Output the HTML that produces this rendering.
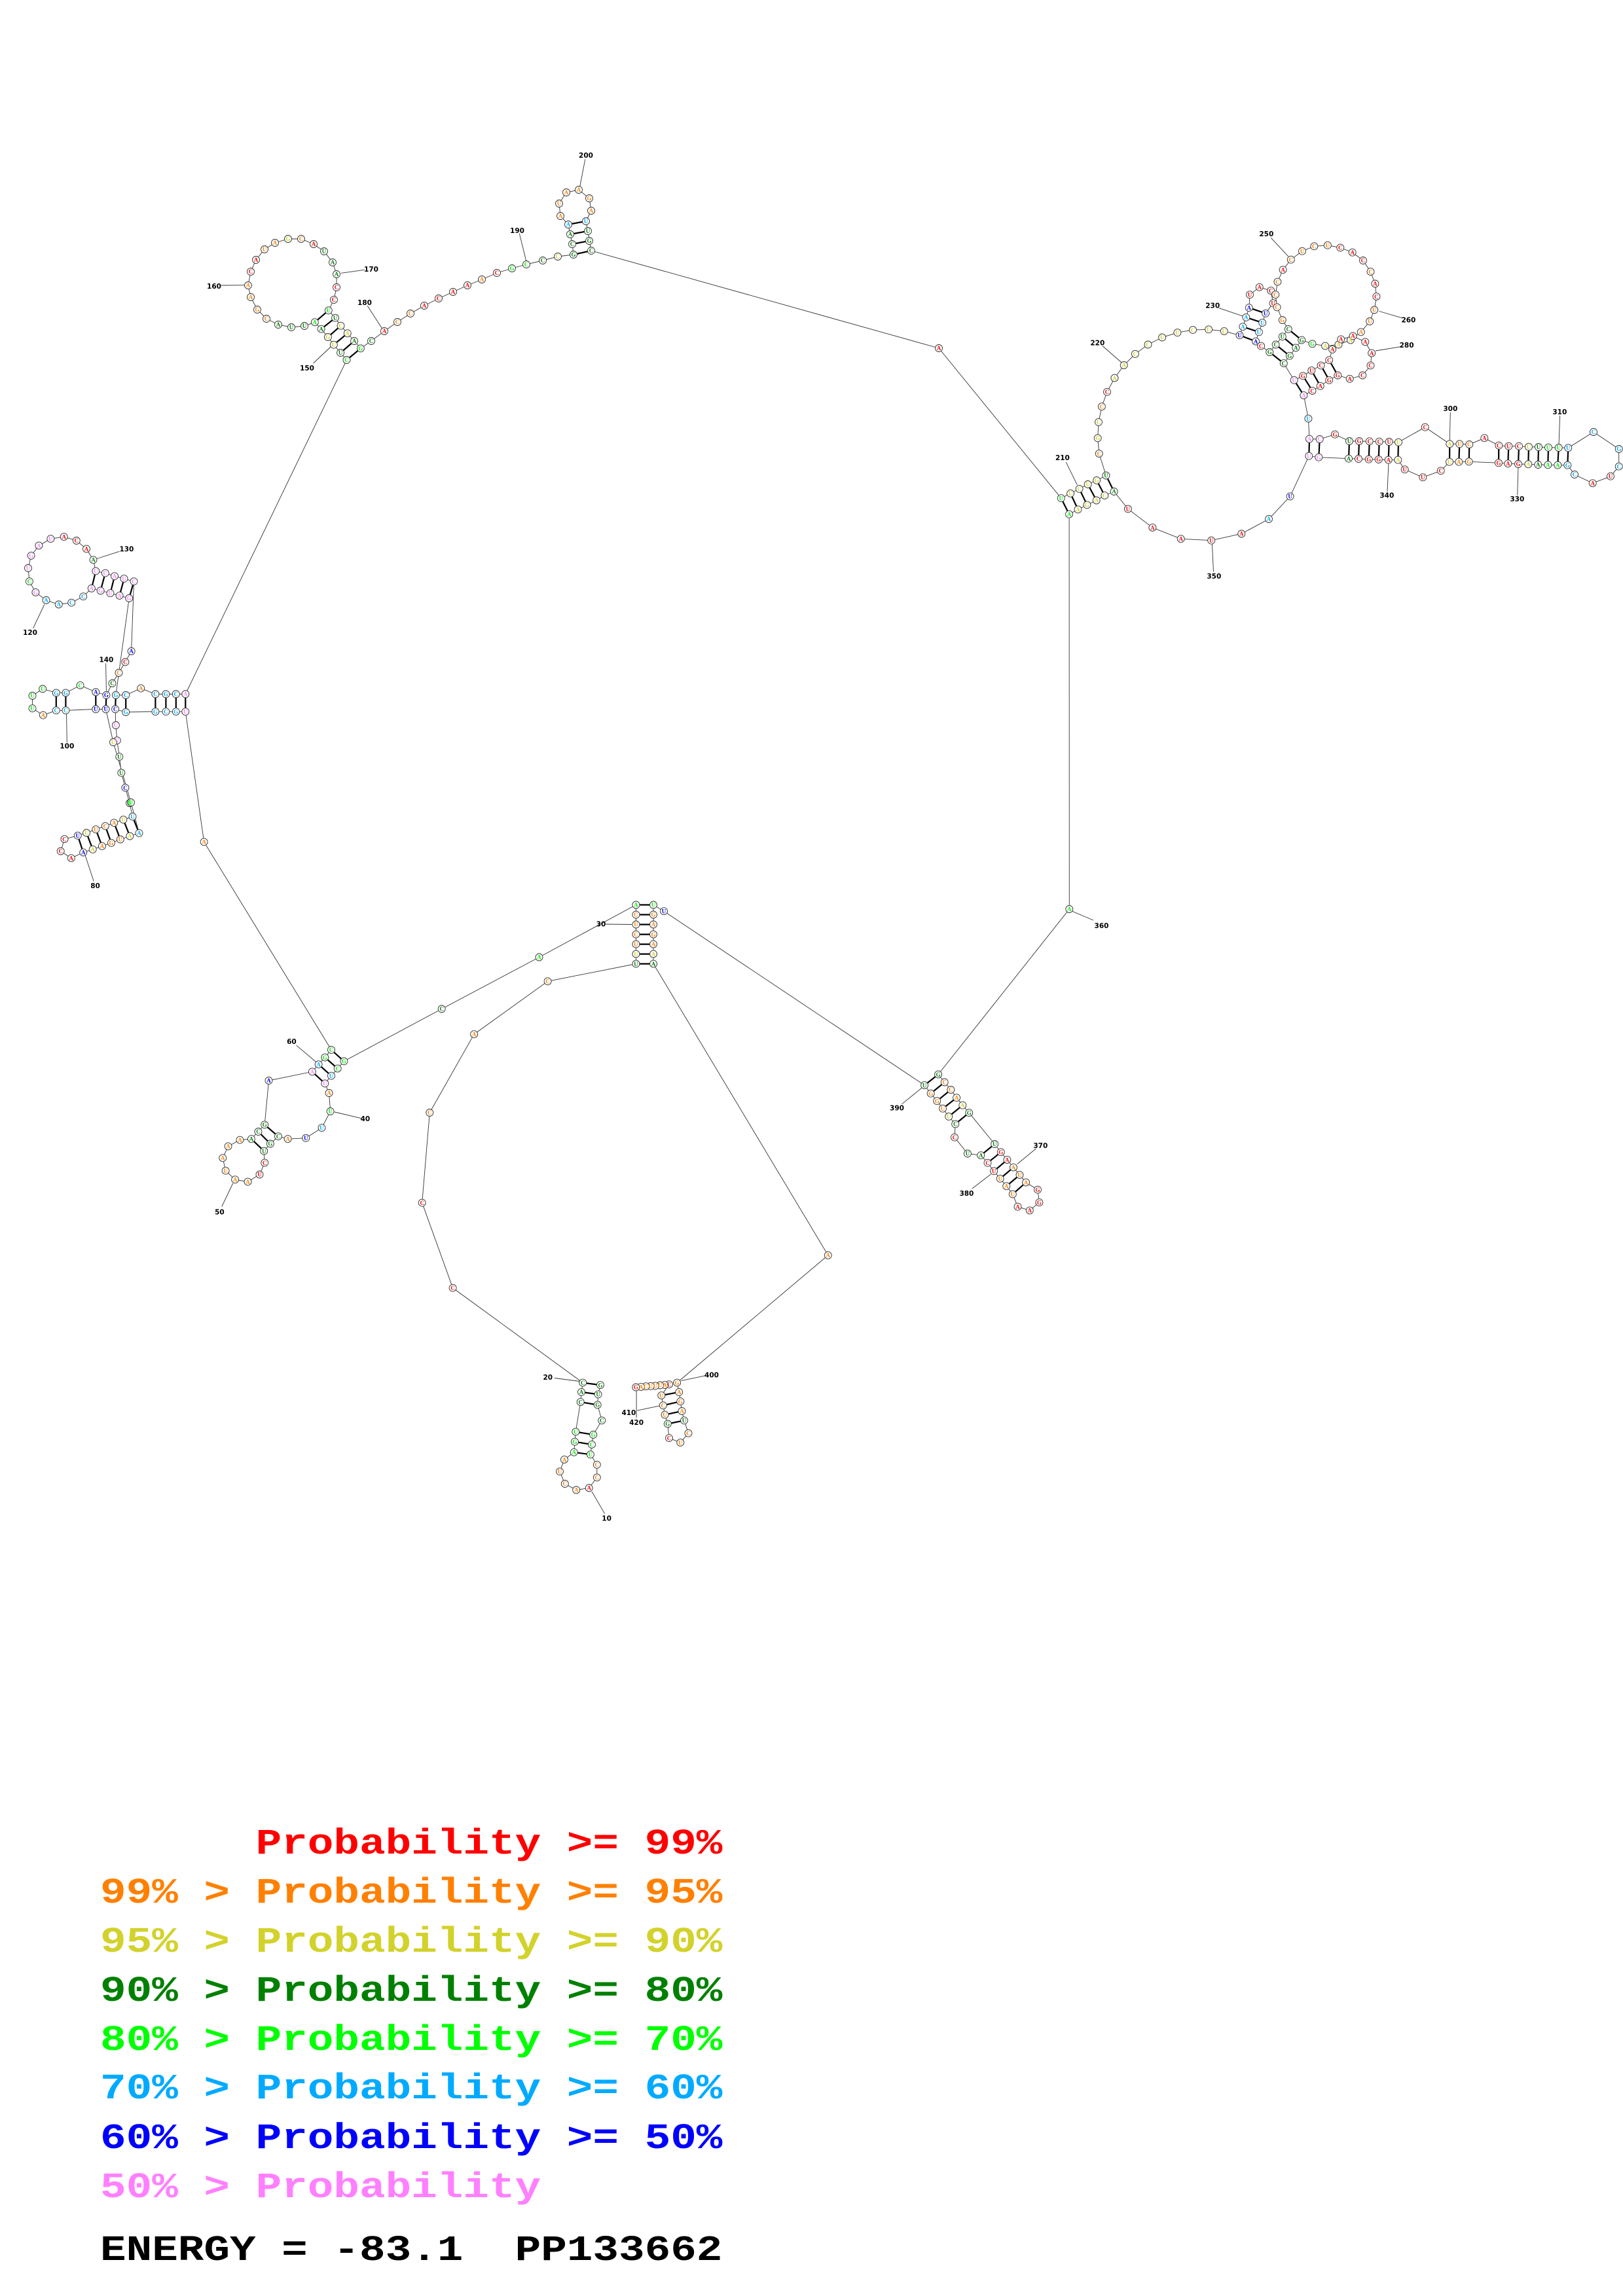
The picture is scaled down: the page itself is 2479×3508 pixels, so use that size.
<!DOCTYPE html>
<html><head><meta charset="utf-8"><style>
html,body{margin:0;padding:0;background:#fff}
svg{display:block}
.nt text{font:bold 9px "Liberation Serif",serif;text-anchor:middle}
.lb text{font:bold 10.5px "DejaVu Sans","Liberation Sans",sans-serif;text-anchor:middle;fill:#000}
.r{fill:#f00}.o{fill:#ff8000}.y{fill:#d2d22c}.d{fill:#008000}.g{fill:#00ee00}.b{fill:#00aaff}.u{fill:#0000ff}.p{fill:#ff80ff}
.lg text{font:bold 66px "Liberation Mono",monospace}
</style></head><body>
<svg width="2479" height="3508" viewBox="0 0 2479 3508" xmlns="http://www.w3.org/2000/svg">
<defs><marker id="m" markerWidth="14" markerHeight="14" refX="7" refY="7" markerUnits="userSpaceOnUse" overflow="visible"><circle cx="7" cy="7" r="5.5" fill="#fff" stroke="#333" stroke-width="0.9"/></marker></defs>
<rect width="2479" height="3508" fill="#fff"/>
<!-- label ticks -->
<path fill="none" stroke="#333" stroke-width="0.9" d="M904,2279L923.6,2312.7M847,2105.5L889,2111M925,1412L965,1412.5M510.9,1699L552,1708.7M338.8,1843.5L355.7,1808M452.7,1597.2L484.2,1623.9M129,1303.5L143.2,1346.5M101.5,1090L102.3,1134M50.6,959.9L67.8,923.5M148.2,853.5L182.6,842.4M161.6,1013.5L162.4,1055.5M478.6,555L505,530M338,436L373.7,435.7M521,417.3L556.7,412.3M561.2,467.3L583.5,501.7M793.3,356.7L803.6,398.3M893.8,243.3L885.7,285M1628.2,706.1L1645.3,740.8M1684.1,528.6L1716.7,557M1861.6,470.6L1900.4,483.7M1941.2,363.3L1967.8,391.8M2106.5,475.5L2141.2,485.7M2101,536L2139.2,529.8M2215.3,630L2214.3,673.3M2382.7,635L2381,679.3M2319,713.3L2317.7,756.7M2121,706.7L2119,751M1851.4,830.6L1853.5,873.5M1637,1392L1670,1406M1553.7,1778.6L1582.4,1754.9M1484.8,1816.1L1513.5,1794M1377.6,1686.8L1408.3,1661.9M1040.6,2109.6L1077.5,2101.8M973.4,2155.1L1010.3,2147.3M972.1,2166L972.1,2120.4"/>
<!-- pair bonds -->
<path fill="none" stroke="#000" stroke-width="2.2" d="M890.2,2112.6L917,2116.1M888,2126.9L913.6,2130.4M886.7,2142.1L912.7,2146.4M879.3,2187.6L906.2,2192M878,2202.8L904,2207.1M876.7,2218.9L901.9,2222.3
M971.4,1382.5L998,1382.5M971.4,1397.5L998,1397.5M971.4,1412.5L998,1412.5M971.4,1427.6L998,1427.6M971.4,1442.6L998,1442.6M971.4,1457.6L998,1457.6M971.4,1472.6L998,1472.6
M506,1604L525.4,1621.4M496.3,1615.6L515.7,1632.6M486.6,1626.3L506,1643.7M476.9,1637.4L496.3,1655.4M404.2,1718.4L425,1736.3M394.5,1729L412.9,1747.5M383.9,1740.2L403.2,1758.6
M118.7,1276.7L127.2,1302.4M132.1,1272.5L141.7,1297.8M146.3,1267.2L155.9,1292.8M160.8,1262.2L170,1287.8M174.2,1257.2L183.8,1282.5M188.4,1252.3L198.3,1277.5M202.5,1247.7L212.5,1272.9
M85.8,1058.6L85.8,1085.4M100.4,1058.6L100.4,1085.4M146.3,1057.5L146.3,1083.5M162.4,1062L161.6,1083.5M176.9,1062L176.1,1083.5M192.2,1062L192.2,1088M237.4,1060.5L237.4,1087.3M253.4,1060.5L253.4,1087.3M268.8,1060.5L268.8,1087.3M283.3,1060.5L283.3,1087.3
M146.3,872.6L139.8,899M160.8,875.7L153.6,902.5M175,880.3L168.5,906.3M189.5,884.1L182.6,910.1M204.5,888.3L197.2,914
M480.8,492.3L501.8,474.3M490.6,502.7L512.1,485.7M500.9,515L520.5,497.7M509.8,526.7L530.8,509.3M520.1,539L541.1,521M529.5,550L550.9,532.3
M868,343L895,338M871,358L898,353M874,373L900,368M876,389L903,383
M1620.8,761.2L1633.1,785.7M1635.1,753.9L1646.5,778.4M1648.6,746.9L1660.4,771.4M1661.6,740L1674.7,764.5M1675.1,733.9L1687.3,757.1M1689.4,726.5L1701.6,751
M1893.5,512.2L1918,521.6M1898.4,499.2L1922.9,507.3M1903.3,484.9L1928.2,493.1M1907.8,470.2L1933.1,478.8
M1939.2,538L1960.8,555.1M1948.6,526.5L1969.8,543.7M1958.8,514.3L1979.2,531.4M1967.8,502.9L1988.2,519.6
M1976.7,580.8L1991.4,604.1M1990.2,574.3L2004.5,597.1M2003.3,566.1L2016.7,589.8M2017.6,558.4L2030.2,580.8M2030.2,550.2L2043.3,573.5
M2000,670.7L1999.3,696.7M2015.7,671L2014.3,698.7M2061,674L2060,700.7M2076,674L2075,701M2091.7,674.3L2090.7,701.7M2106.7,674.7L2105.7,702M2121.7,675L2120.7,702.7M2136,675.7L2135.3,702.7M2214.3,678.3L2214,705.7M2229.3,678.3L2228.3,705.7M2244.3,679L2243.7,705.3M2289.3,680.7L2289,707.3M2304.3,681.7L2303.3,708.3M2320,681.7L2319,709M2335,682.7L2334.3,709.3M2350,683L2349.3,710M2365,683.7L2364.3,710.3M2380.7,684L2379.3,710.7M2395.3,684.3L2394.3,710.7
M1412.1,1658.1L1433.1,1641.6M1421.7,1670.7L1442.7,1653.5M1431.2,1682.2L1452.3,1665M1440,1693.7L1461.1,1677.2M1449.2,1705.9L1470.3,1688.7M1459.2,1717.4L1480.2,1700.2
M1498.2,1765.2L1519.2,1748M1508.5,1776.7L1528.8,1760.3M1518.1,1789.3L1538.4,1772.1M1527.7,1800.8L1547.9,1783.6M1537.2,1812.3L1557.5,1795.1M1546.8,1824.6L1567.1,1806.6
M1010.3,2132.1L1037.2,2126.9M1012.9,2147.3L1039.3,2141.2M1015.5,2161.6L1041.5,2156M1019.8,2175.5L1045,2170.3"/>
<!-- backbone with node circles -->
<polyline fill="none" stroke="#333" stroke-width="0.9" marker-start="url(#m)" marker-mid="url(#m)" marker-end="url(#m)" points="917,2116.1 913.6,2130.4 912.7,2146.4 919.2,2170.3 906.2,2192 904,2207.1 901.9,2222.3 911.8,2237.9 911.8,2257.4 899.7,2273.5 880.2,2276.5 862.8,2267 855,2248.3 862,2230.1 876.7,2218.9 878,2202.8 879.3,2187.6 886.7,2142.1 888,2126.9 890.2,2112.6 691.6,1967.8 644.7,1837.7 656.3,1700 724.1,1580.2 836.6,1499.3 971.4,1472.6 971.4,1457.6 971.4,1442.6 971.4,1427.6 971.4,1412.5 971.4,1397.5 971.4,1382.5 823.5,1462.5 674.7,1541.5 525.4,1621.4 515.7,1632.6 506,1643.7 496.3,1655.4 502.6,1670 504.6,1698 491.5,1723.2 467.2,1738.8 439.6,1740.2 425,1736.3 412.9,1747.5 403.2,1758.6 404.2,1776.6 396.5,1794.5 378.5,1805.6 359.1,1802.3 344.6,1788.7 340.2,1769.3 348.5,1751.4 366.4,1741.7 383.9,1740.2 394.5,1729 404.2,1718.4 410.5,1651 476.9,1637.4 486.6,1626.3 496.3,1615.6 506,1604 311.6,1286.3 283.3,1087.3 268.8,1087.3 253.4,1087.3 237.4,1087.3 192.2,1088 176.1,1083.5 176.9,1108 178.8,1131.3 182.3,1156.2 185.3,1180.7 191.4,1203.6 198,1227 202.5,1247.7 188.4,1252.3 174.2,1257.2 160.8,1262.2 146.3,1267.2 132.1,1272.5 118.7,1276.7 98.5,1282.1 92.7,1300.5 108.8,1311.2 127.2,1302.4 141.7,1297.8 155.9,1292.8 170,1287.8 183.8,1282.5 198.3,1277.5 212.5,1272.9 200,1226 173,1134 161.6,1083.5 146.3,1083.5 100.4,1085.4 85.8,1085.4 65.9,1092.7 49.5,1082.3 49.5,1063 65.2,1052.5 85.8,1058.6 100.4,1058.6 122.6,1047.1 146.3,1057.5 162.4,1062 171.5,1044 181.5,1028 191.4,1011.5 200.6,995 204.5,888.3 189.5,884.1 175,880.3 160.8,875.7 146.3,872.6 142.5,855.4 132,838.6 116.8,826 97.7,820.2 77.4,823.2 59.4,833.6 47.6,848.9 43,868 44.9,888.3 54.4,905.1 70.5,917 89.7,923.5 109.2,920.8 127.2,911.3 139.8,899 153.6,902.5 168.5,906.3 182.6,910.1 197.2,914 176.9,1062 192.2,1062 215.2,1051.7 237.4,1060.5 253.4,1060.5 268.8,1060.5 283.3,1060.5 529.5,550 520.1,539 509.8,526.7 500.9,515 490.6,502.7 480.8,492.3 465,498 445,500 425,496 407,487 393,473 383,454 379,436 383,415 391,397 404,381 420,371 440,365 460,365 479,373 495,384 508,401 514,419 514,439 510,458 501.8,474.3 512.1,485.7 520.5,497.7 530.8,509.3 541.1,521 550.9,532.3 567,521 587,506 607,492 627,479 648,467 670,456 692,446 714,436 736,427 759,417 782,410 804,404 829,398 852,392 876,389 874,373 871,358 868,343 856,330 854,311 865,294 884,290 900,303 903,322 895,338 898,353 900,368 903,383 1434,532 1620.8,761.2 1635.1,753.9 1648.6,746.9 1661.6,740 1675.1,733.9 1689.4,726.5 1678.8,693.1 1676.7,669.4 1678,644.9 1682.9,621.2 1691,598.8 1702.4,577.6 1716.7,558 1733.9,540.8 1753.5,526.5 1775.1,515.5 1798.4,508.2 1822,504.1 1846.1,503.3 1869.8,506.1 1893.5,512.2 1898.4,499.2 1903.3,484.9 1907.8,470.2 1909,450.2 1923.7,438.8 1941.2,444.1 1944.5,463.3 1933.1,478.8 1928.2,493.1 1922.9,507.3 1918,521.6 1926.1,528.6 1939.2,538 1948.6,526.5 1958.8,514.3 1967.8,502.9 1958.8,489 1950.6,469.4 1948.2,450.2 1951.4,430.6 1959.6,412.2 1971.8,396.7 1989,383.7 2007.3,376.3 2027.8,374.7 2047.3,378.4 2065.7,385.7 2082,398 2093.5,415.1 2100.4,433.5 2102.4,453.1 2099.2,473.5 2092.2,491 2078.8,507.3 2062.9,519.6 2044.5,526.5 2024.1,528.6 2004.5,525.3 1988.2,519.6 1979.2,531.4 1969.8,543.7 1960.8,555.1 1976.7,580.8 1990.2,574.3 2003.3,566.1 2017.6,558.4 2030.2,550.2 2035.1,533.9 2048.2,518.4 2066.5,513.5 2085.3,522.4 2095.1,539.6 2093.5,558.4 2081.2,573.5 2061.6,578.8 2043.3,573.5 2030.2,580.8 2016.7,589.8 2004.5,597.1 1991.4,604.1 1998.4,639.6 2000,670.7 2015.7,671 2039,663.7 2061,674 2076,674 2091.7,674.3 2106.7,674.7 2121.7,675 2136,675.7 2176.7,652.7 2214.3,678.3 2229.3,678.3 2244.3,679 2267.3,669.3 2289.3,680.7 2304.3,681.7 2320,681.7 2335,682.7 2350,683 2365,683.7 2380.7,684 2395.3,684.3 2434,660 2472.7,686 2472.7,712.7 2460,727.7 2432.7,738.3 2405,725 2394.3,710.7 2379.3,710.7 2364.3,710.3 2349.3,710 2334.3,709.3 2319,709 2303.3,708.3 2289,707.3 2243.7,705.3 2228.3,705.7 2214,705.7 2200.7,719.3 2173.3,729.3 2145.7,717.3 2135.3,702.7 2120.7,702.7 2105.7,702 2090.7,701.7 2075,701 2060,700.7 2014.3,698.7 1999.3,696.7 1970.6,758.4 1938,793 1896.3,815.5 1850.2,825.7 1803.7,823.3 1760.4,806.1 1722.9,777.6 1701.6,751 1687.3,757.1 1674.7,764.5 1660.4,771.4 1646.5,778.4 1633.1,785.7 1633.3,1389 1433.1,1641.6 1442.7,1653.5 1452.3,1665 1461.1,1677.2 1470.3,1688.7 1480.2,1700.2 1519.2,1748 1528.8,1760.3 1538.4,1772.1 1547.9,1783.6 1557.5,1795.1 1567.1,1806.6 1585,1817.7 1587.4,1837.2 1572.8,1849.4 1554.5,1843.7 1546.8,1824.6 1537.2,1812.3 1527.7,1800.8 1518.1,1789.3 1508.5,1776.7 1498.2,1765.2 1477.9,1762.5 1458,1737.7 1459.2,1717.4 1449.2,1705.9 1440,1693.7 1431.2,1682.2 1421.7,1670.7 1412.1,1658.1 1014,1392.2 998,1382.5 998,1397.5 998,1412.5 998,1427.6 998,1442.6 998,1457.6 998,1472.6 1264.8,1917.9 1034.1,2112.6 1037.2,2126.9 1039.3,2141.2 1041.5,2156 1045,2170.3 1051.5,2189.8 1039.3,2204.1 1022,2197.2 1019.8,2175.5 1015.5,2161.6 1012.9,2147.3 1010.3,2132.1 1022,2115.2 1015.5,2116.1 1008.1,2116.5 1000.7,2117.4 993.8,2117.8 986.4,2118.2 979.1,2119.1 971.3,2119.5"/>
<!-- nucleotide letters -->
<g class="nt" transform="translate(0,3.2)">
<text x="917" y="2116.1" class="d">G</text><text x="913.6" y="2130.4" class="d">U</text><text x="912.7" y="2146.4" class="d">G</text><text x="919.2" y="2170.3" class="d">C</text><text x="906.2" y="2192" class="g">G</text><text x="904" y="2207.1" class="g">C</text><text x="901.9" y="2222.3" class="g">U</text><text x="911.8" y="2237.9" class="o">C</text><text x="911.8" y="2257.4" class="o">C</text><text x="899.7" y="2273.5" class="r">A</text><text x="880.2" y="2276.5" class="o">A</text><text x="862.8" y="2267" class="o">C</text><text x="855" y="2248.3" class="o">U</text><text x="862" y="2230.1" class="o">A</text><text x="876.7" y="2218.9" class="g">A</text><text x="878" y="2202.8" class="g">G</text><text x="879.3" y="2187.6" class="g">U</text><text x="886.7" y="2142.1" class="d">C</text><text x="888" y="2126.9" class="d">A</text><text x="890.2" y="2112.6" class="d">C</text>
<text x="691.6" y="1967.8" class="r">C</text><text x="644.7" y="1837.7" class="r">C</text><text x="656.3" y="1700" class="o">C</text><text x="724.1" y="1580.2" class="o">A</text><text x="836.6" y="1499.3" class="o">C</text>
<text x="971.4" y="1472.6" class="d">U</text><text x="971.4" y="1457.6" class="y">U</text><text x="971.4" y="1442.6" class="o">U</text><text x="971.4" y="1427.6" class="o">C</text><text x="971.4" y="1412.5" class="o">U</text><text x="971.4" y="1397.5" class="o">C</text><text x="971.4" y="1382.5" class="g">A</text>
<text x="823.5" y="1462.5" class="g">A</text><text x="674.7" y="1541.5" class="d">C</text><text x="525.4" y="1621.4" class="g">G</text><text x="515.7" y="1632.6" class="g">C</text><text x="506" y="1643.7" class="b">U</text><text x="496.3" y="1655.4" class="p">U</text><text x="502.6" y="1670" class="o">A</text><text x="504.6" y="1698" class="g">U</text><text x="491.5" y="1723.2" class="b">U</text><text x="467.2" y="1738.8" class="u">U</text><text x="439.6" y="1740.2" class="o">A</text><text x="425" y="1736.3" class="d">C</text><text x="412.9" y="1747.5" class="d">G</text><text x="403.2" y="1758.6" class="d">U</text><text x="404.2" y="1776.6" class="r">C</text><text x="396.5" y="1794.5" class="r">U</text><text x="378.5" y="1805.6" class="o">A</text><text x="359.1" y="1802.3" class="o">A</text><text x="344.6" y="1788.7" class="o">U</text><text x="340.2" y="1769.3" class="o">A</text><text x="348.5" y="1751.4" class="o">A</text><text x="366.4" y="1741.7" class="o">A</text><text x="383.9" y="1740.2" class="d">A</text><text x="394.5" y="1729" class="d">C</text><text x="404.2" y="1718.4" class="d">G</text><text x="410.5" y="1651" class="u">A</text><text x="476.9" y="1637.4" class="p">A</text><text x="486.6" y="1626.3" class="b">A</text><text x="496.3" y="1615.6" class="g">G</text><text x="506" y="1604" class="g">C</text><text x="311.6" y="1286.3" class="o">A</text>
<text x="283.3" y="1087.3" class="p">U</text><text x="268.8" y="1087.3" class="b">G</text><text x="253.4" y="1087.3" class="b">C</text><text x="237.4" y="1087.3" class="b">G</text><text x="192.2" y="1088" class="b">G</text><text x="176.1" y="1083.5" class="u">C</text><text x="176.9" y="1108" class="p">U</text><text x="173" y="1134" class="y">U</text><text x="178.8" y="1131.3" class="p">U</text><text x="182.3" y="1156.2" class="d">U</text><text x="185.3" y="1180.7" class="d">U</text><text x="191.4" y="1203.6" class="u">C</text><text x="200" y="1226" class="g">U</text><text x="198" y="1227" class="g">U</text><text x="202.5" y="1247.7" class="b">U</text><text x="188.4" y="1252.3" class="y">U</text><text x="174.2" y="1257.2" class="o">A</text><text x="160.8" y="1262.2" class="o">C</text><text x="146.3" y="1267.2" class="o">U</text><text x="132.1" y="1272.5" class="y">U</text><text x="118.7" y="1276.7" class="u">U</text><text x="98.5" y="1282.1" class="r">C</text><text x="92.7" y="1300.5" class="r">C</text><text x="108.8" y="1311.2" class="r">A</text><text x="127.2" y="1302.4" class="u">A</text><text x="141.7" y="1297.8" class="y">A</text><text x="155.9" y="1292.8" class="o">A</text><text x="170" y="1287.8" class="o">G</text><text x="183.8" y="1282.5" class="o">U</text><text x="198.3" y="1277.5" class="y">A</text><text x="212.5" y="1272.9" class="b">A</text>
<text x="161.6" y="1083.5" class="u">U</text><text x="146.3" y="1083.5" class="u">U</text><text x="100.4" y="1085.4" class="b">C</text><text x="85.8" y="1085.4" class="b">C</text><text x="65.9" y="1092.7" class="o">A</text><text x="49.5" y="1082.3" class="g">U</text><text x="49.5" y="1063" class="g">U</text><text x="65.2" y="1052.5" class="g">U</text><text x="85.8" y="1058.6" class="b">G</text><text x="100.4" y="1058.6" class="b">G</text><text x="122.6" y="1047.1" class="g">C</text><text x="146.3" y="1057.5" class="u">A</text><text x="162.4" y="1062" class="u">G</text><text x="171.5" y="1044" class="d">C</text><text x="181.5" y="1028" class="o">C</text><text x="191.4" y="1011.5" class="r">C</text><text x="200.6" y="995" class="u">A</text>
<text x="204.5" y="888.3" class="p">C</text><text x="189.5" y="884.1" class="p">U</text><text x="175" y="880.3" class="p">A</text><text x="160.8" y="875.7" class="p">C</text><text x="146.3" y="872.6" class="p">U</text><text x="142.5" y="855.4" class="d">A</text><text x="132" y="838.6" class="r">A</text><text x="116.8" y="826" class="r">C</text><text x="97.7" y="820.2" class="r">A</text><text x="77.4" y="823.2" class="p">U</text><text x="59.4" y="833.6" class="p">A</text><text x="47.6" y="848.9" class="p">G</text><text x="43" y="868" class="p">U</text><text x="44.9" y="888.3" class="g">C</text><text x="54.4" y="905.1" class="p">G</text><text x="70.5" y="917" class="b">A</text><text x="89.7" y="923.5" class="b">A</text><text x="109.2" y="920.8" class="b">C</text><text x="127.2" y="911.3" class="b">C</text><text x="139.8" y="899" class="p">A</text><text x="153.6" y="902.5" class="p">G</text><text x="168.5" y="906.3" class="p">U</text><text x="182.6" y="910.1" class="p">A</text><text x="197.2" y="914" class="p">G</text>
<text x="176.9" y="1062" class="b">G</text><text x="192.2" y="1062" class="b">C</text><text x="215.2" y="1051.7" class="o">A</text><text x="237.4" y="1060.5" class="b">C</text><text x="253.4" y="1060.5" class="b">G</text><text x="268.8" y="1060.5" class="b">C</text><text x="283.3" y="1060.5" class="p">A</text>
<text x="529.5" y="550" class="g">C</text><text x="520.1" y="539" class="d">U</text><text x="509.8" y="526.7" class="y">U</text><text x="500.9" y="515" class="y">G</text><text x="490.6" y="502.7" class="d">A</text><text x="480.8" y="492.3" class="g">A</text><text x="465" y="498" class="d">U</text><text x="445" y="500" class="d">U</text><text x="425" y="496" class="d">A</text><text x="407" y="487" class="o">C</text><text x="393" y="473" class="o">G</text><text x="383" y="454" class="o">A</text><text x="379" y="436" class="o">A</text><text x="383" y="415" class="r">C</text><text x="391" y="397" class="r">A</text><text x="404" y="381" class="o">U</text><text x="420" y="371" class="o">A</text><text x="440" y="365" class="y">G</text><text x="460" y="365" class="o">C</text><text x="479" y="373" class="r">A</text><text x="495" y="384" class="d">U</text><text x="508" y="401" class="d">A</text><text x="514" y="419" class="d">A</text><text x="514" y="439" class="r">C</text><text x="510" y="458" class="r">C</text><text x="501.8" y="474.3" class="g">U</text><text x="512.1" y="485.7" class="d">U</text><text x="520.5" y="497.7" class="y">C</text><text x="530.8" y="509.3" class="y">A</text><text x="541.1" y="521" class="d">A</text><text x="550.9" y="532.3" class="g">G</text>
<text x="567" y="521" class="d">C</text><text x="587" y="506" class="r">A</text><text x="607" y="492" class="o">C</text><text x="627" y="479" class="o">C</text><text x="648" y="467" class="r">A</text><text x="670" y="456" class="r">C</text><text x="692" y="446" class="r">A</text><text x="714" y="436" class="r">A</text><text x="736" y="427" class="o">A</text><text x="759" y="417" class="r">C</text><text x="782" y="410" class="g">G</text><text x="804" y="404" class="g">C</text><text x="829" y="398" class="d">C</text><text x="852" y="392" class="y">C</text><text x="876" y="389" class="d">G</text><text x="874" y="373" class="d">C</text><text x="871" y="358" class="d">A</text><text x="868" y="343" class="b">A</text><text x="856" y="330" class="o">A</text><text x="854" y="311" class="o">U</text><text x="865" y="294" class="o">A</text><text x="884" y="290" class="o">A</text><text x="900" y="303" class="o">G</text><text x="903" y="322" class="o">A</text><text x="895" y="338" class="b">U</text><text x="898" y="353" class="d">U</text><text x="900" y="368" class="d">G</text><text x="903" y="383" class="d">C</text><text x="1434" y="532" class="r">A</text>
<text x="1620.8" y="761.2" class="g">U</text><text x="1635.1" y="753.9" class="y">U</text><text x="1648.6" y="746.9" class="y">C</text><text x="1661.6" y="740" class="y">U</text><text x="1675.1" y="733.9" class="y">G</text><text x="1689.4" y="726.5" class="d">U</text><text x="1678.8" y="693.1" class="o">C</text><text x="1676.7" y="669.4" class="y">G</text><text x="1678" y="644.9" class="y">C</text><text x="1682.9" y="621.2" class="o">C</text><text x="1691" y="598.8" class="r">C</text><text x="1702.4" y="577.6" class="y">A</text><text x="1716.7" y="558" class="y">A</text><text x="1733.9" y="540.8" class="y">C</text><text x="1753.5" y="526.5" class="y">C</text><text x="1775.1" y="515.5" class="y">U</text><text x="1798.4" y="508.2" class="y">U</text><text x="1822" y="504.1" class="y">C</text><text x="1846.1" y="503.3" class="y">U</text><text x="1869.8" y="506.1" class="y">U</text>
<text x="1893.5" y="512.2" class="u">U</text><text x="1898.4" y="499.2" class="b">A</text><text x="1903.3" y="484.9" class="b">A</text><text x="1907.8" y="470.2" class="u">A</text><text x="1909" y="450.2" class="r">U</text><text x="1923.7" y="438.8" class="r">A</text><text x="1941.2" y="444.1" class="r">C</text><text x="1944.5" y="463.3" class="r">U</text><text x="1933.1" y="478.8" class="u">U</text><text x="1928.2" y="493.1" class="b">U</text><text x="1922.9" y="507.3" class="b">U</text><text x="1918" y="521.6" class="u">A</text><text x="1926.1" y="528.6" class="r">C</text>
<text x="1939.2" y="538" class="d">G</text><text x="1948.6" y="526.5" class="d">C</text><text x="1958.8" y="514.3" class="d">U</text><text x="1967.8" y="502.9" class="d">C</text><text x="1958.8" y="489" class="o">G</text><text x="1950.6" y="469.4" class="o">C</text><text x="1948.2" y="450.2" class="o">C</text><text x="1951.4" y="430.6" class="o">C</text><text x="1959.6" y="412.2" class="r">A</text><text x="1971.8" y="396.7" class="o">C</text><text x="1989" y="383.7" class="o">U</text><text x="2007.3" y="376.3" class="o">C</text><text x="2027.8" y="374.7" class="o">U</text><text x="2047.3" y="378.4" class="r">C</text><text x="2065.7" y="385.7" class="r">A</text><text x="2082" y="398" class="r">C</text><text x="2093.5" y="415.1" class="o">C</text><text x="2100.4" y="433.5" class="r">A</text><text x="2102.4" y="453.1" class="r">C</text><text x="2099.2" y="473.5" class="o">U</text><text x="2092.2" y="491" class="o">U</text><text x="2078.8" y="507.3" class="o">A</text><text x="2062.9" y="519.6" class="y">A</text><text x="2044.5" y="526.5" class="y">A</text><text x="2024.1" y="528.6" class="y">A</text><text x="2004.5" y="525.3" class="g">G</text><text x="1988.2" y="519.6" class="d">G</text><text x="1979.2" y="531.4" class="d">A</text><text x="1969.8" y="543.7" class="d">G</text><text x="1960.8" y="555.1" class="d">C</text>
<text x="1976.7" y="580.8" class="p">U</text><text x="1990.2" y="574.3" class="r">G</text><text x="2003.3" y="566.1" class="r">U</text><text x="2017.6" y="558.4" class="r">C</text><text x="2030.2" y="550.2" class="r">C</text><text x="2035.1" y="533.9" class="r">A</text><text x="2048.2" y="518.4" class="r">A</text><text x="2066.5" y="513.5" class="r">A</text><text x="2085.3" y="522.4" class="r">A</text><text x="2095.1" y="539.6" class="r">A</text><text x="2093.5" y="558.4" class="r">C</text><text x="2081.2" y="573.5" class="r">C</text><text x="2061.6" y="578.8" class="r">A</text><text x="2043.3" y="573.5" class="r">G</text><text x="2030.2" y="580.8" class="r">G</text><text x="2016.7" y="589.8" class="r">A</text><text x="2004.5" y="597.1" class="r">C</text><text x="1991.4" y="604.1" class="p">A</text><text x="1998.4" y="639.6" class="b">U</text>
<text x="2000" y="670.7" class="p">A</text><text x="2015.7" y="671" class="p">C</text><text x="2039" y="663.7" class="r">G</text><text x="2061" y="674" class="d">U</text><text x="2076" y="674" class="r">G</text><text x="2091.7" y="674.3" class="r">C</text><text x="2106.7" y="674.7" class="r">C</text><text x="2121.7" y="675" class="r">U</text><text x="2136" y="675.7" class="y">U</text><text x="2176.7" y="652.7" class="r">C</text><text x="2214.3" y="678.3" class="y">A</text><text x="2229.3" y="678.3" class="o">U</text><text x="2244.3" y="679" class="o">C</text><text x="2267.3" y="669.3" class="r">A</text><text x="2289.3" y="680.7" class="r">C</text><text x="2304.3" y="681.7" class="r">U</text><text x="2320" y="681.7" class="r">C</text><text x="2335" y="682.7" class="y">U</text><text x="2350" y="683" class="d">U</text><text x="2365" y="683.7" class="g">U</text><text x="2380.7" y="684" class="g">U</text><text x="2395.3" y="684.3" class="b">U</text><text x="2434" y="660" class="b">C</text><text x="2472.7" y="686" class="b">G</text><text x="2472.7" y="712.7" class="b">C</text><text x="2460" y="727.7" class="r">U</text><text x="2432.7" y="738.3" class="r">A</text><text x="2405" y="725" class="b">C</text><text x="2394.3" y="710.7" class="b">G</text><text x="2379.3" y="710.7" class="g">A</text><text x="2364.3" y="710.3" class="g">A</text><text x="2349.3" y="710" class="d">A</text><text x="2334.3" y="709.3" class="y">A</text><text x="2319" y="709" class="r">G</text><text x="2303.3" y="708.3" class="r">A</text><text x="2289" y="707.3" class="r">G</text><text x="2243.7" y="705.3" class="o">G</text><text x="2228.3" y="705.7" class="o">A</text><text x="2214" y="705.7" class="y">U</text><text x="2200.7" y="719.3" class="r">C</text><text x="2173.3" y="729.3" class="r">U</text><text x="2145.7" y="717.3" class="r">U</text><text x="2135.3" y="702.7" class="y">A</text><text x="2120.7" y="702.7" class="r">A</text><text x="2105.7" y="702" class="r">G</text><text x="2090.7" y="701.7" class="r">G</text><text x="2075" y="701" class="r">C</text><text x="2060" y="700.7" class="d">A</text><text x="2014.3" y="698.7" class="p">G</text><text x="1999.3" y="696.7" class="p">U</text>
<text x="1970.6" y="758.4" class="u">U</text><text x="1938" y="793" class="b">A</text><text x="1896.3" y="815.5" class="r">A</text><text x="1850.2" y="825.7" class="r">U</text><text x="1803.7" y="823.3" class="r">A</text><text x="1760.4" y="806.1" class="r">A</text><text x="1722.9" y="777.6" class="r">U</text><text x="1701.6" y="751" class="d">A</text><text x="1687.3" y="757.1" class="y">C</text><text x="1674.7" y="764.5" class="y">A</text><text x="1660.4" y="771.4" class="y">G</text><text x="1646.5" y="778.4" class="y">A</text><text x="1633.1" y="785.7" class="g">A</text><text x="1633.3" y="1389" class="g">A</text>
<text x="1433.1" y="1641.6" class="d">G</text><text x="1442.7" y="1653.5" class="o">C</text><text x="1452.3" y="1665" class="o">C</text><text x="1461.1" y="1677.2" class="o">A</text><text x="1470.3" y="1688.7" class="y">A</text><text x="1480.2" y="1700.2" class="d">G</text><text x="1519.2" y="1748" class="d">U</text><text x="1528.8" y="1760.3" class="r">G</text><text x="1538.4" y="1772.1" class="r">A</text><text x="1547.9" y="1783.6" class="o">A</text><text x="1557.5" y="1795.1" class="o">U</text><text x="1567.1" y="1806.6" class="o">A</text><text x="1585" y="1817.7" class="r">G</text><text x="1587.4" y="1837.2" class="r">G</text><text x="1572.8" y="1849.4" class="r">A</text><text x="1554.5" y="1843.7" class="r">A</text><text x="1546.8" y="1824.6" class="o">U</text><text x="1537.2" y="1812.3" class="o">A</text><text x="1527.7" y="1800.8" class="o">U</text><text x="1518.1" y="1789.3" class="r">U</text><text x="1508.5" y="1776.7" class="r">C</text><text x="1498.2" y="1765.2" class="d">A</text><text x="1477.9" y="1762.5" class="d">U</text><text x="1458" y="1737.7" class="r">C</text><text x="1459.2" y="1717.4" class="d">C</text><text x="1449.2" y="1705.9" class="y">U</text><text x="1440" y="1693.7" class="o">U</text><text x="1431.2" y="1682.2" class="o">G</text><text x="1421.7" y="1670.7" class="o">G</text><text x="1412.1" y="1658.1" class="d">U</text>
<text x="1014" y="1392.2" class="u">U</text><text x="998" y="1382.5" class="g">U</text><text x="998" y="1397.5" class="o">G</text><text x="998" y="1412.5" class="o">A</text><text x="998" y="1427.6" class="o">G</text><text x="998" y="1442.6" class="o">A</text><text x="998" y="1457.6" class="y">A</text><text x="998" y="1472.6" class="d">A</text><text x="1264.8" y="1917.9" class="o">A</text>
<text x="1034.1" y="2112.6" class="o">G</text><text x="1037.2" y="2126.9" class="o">A</text><text x="1039.3" y="2141.2" class="o">G</text><text x="1041.5" y="2156" class="o">A</text><text x="1045" y="2170.3" class="d">U</text><text x="1051.5" y="2189.8" class="o">C</text><text x="1039.3" y="2204.1" class="o">U</text><text x="1022" y="2197.2" class="r">C</text><text x="1019.8" y="2175.5" class="d">G</text><text x="1015.5" y="2161.6" class="o">U</text><text x="1012.9" y="2147.3" class="o">C</text><text x="1010.3" y="2132.1" class="o">U</text>
<text x="1022" y="2115.2" class="r">C</text><text x="1015.5" y="2116.1" class="o">A</text><text x="1008.1" y="2116.5" class="o">U</text><text x="1000.7" y="2117.4" class="o">U</text><text x="993.8" y="2117.8" class="o">U</text><text x="986.4" y="2118.2" class="o">C</text><text x="979.1" y="2119.1" class="o">A</text><text x="971.3" y="2119.5" class="r">G</text>
</g>
<!-- position labels -->
<g class="lb" transform="translate(0,3.8)">
<text x="926.6" y="2319.9">10</text><text x="836.8" y="2104.4">20</text><text x="918" y="1411.6">30</text><text x="557.9" y="1709.2">40</text><text x="335.4" y="1851.7">50</text><text x="445.4" y="1591.4">60</text><text x="145.5" y="1353.3">80</text><text x="102.3" y="1139.7">100</text><text x="46" y="966">120</text><text x="193.4" y="838.6">130</text><text x="162.4" y="1007.7">140</text><text x="469" y="562">150</text><text x="327" y="437">160</text><text x="567" y="411">170</text><text x="557" y="462">180</text><text x="790" y="352">190</text><text x="895" y="237">200</text><text x="1622.9" y="699.2">210</text><text x="1676.3" y="523.7">220</text><text x="1852.2" y="466.5">230</text><text x="1934.3" y="357.1">250</text><text x="2151.4" y="488.6">260</text><text x="2148.6" y="527.3">280</text><text x="2215.3" y="624.3">300</text><text x="2382.3" y="629.3">310</text><text x="2490" y="767.7">320</text><text x="2317.3" y="762.3">330</text><text x="2118.3" y="756.7">340</text><text x="1854.3" y="880.4">350</text><text x="1682.5" y="1414">360</text><text x="1589.3" y="1750">370</text><text x="1476.4" y="1823.4">380</text><text x="1370" y="1692.5">390</text><text x="1087" y="2100.9">400</text><text x="960.4" y="2158.1">410</text><text x="972.1" y="2173.3">420</text>
</g>
<!-- legend -->
<g class="lg">
<g transform="translate(0,2832) scale(1,0.83)" fill="#ff0000"><text x="390.6" y="0">Probability</text><text x="865.8" y="0">&gt;=</text><text x="984.6" y="0">99%</text></g>
<g transform="translate(0,2907) scale(1,0.83)" fill="#ff8000"><text x="153" y="0">99%</text><text x="311.4" y="0">&gt;</text><text x="390.6" y="0">Probability</text><text x="865.8" y="0">&gt;=</text><text x="984.6" y="0">95%</text></g>
<g transform="translate(0,2982) scale(1,0.83)" fill="#d2d22c"><text x="153" y="0">95%</text><text x="311.4" y="0">&gt;</text><text x="390.6" y="0">Probability</text><text x="865.8" y="0">&gt;=</text><text x="984.6" y="0">90%</text></g>
<g transform="translate(0,3057) scale(1,0.83)" fill="#008000"><text x="153" y="0">90%</text><text x="311.4" y="0">&gt;</text><text x="390.6" y="0">Probability</text><text x="865.8" y="0">&gt;=</text><text x="984.6" y="0">80%</text></g>
<g transform="translate(0,3132) scale(1,0.83)" fill="#00ff00"><text x="153" y="0">80%</text><text x="311.4" y="0">&gt;</text><text x="390.6" y="0">Probability</text><text x="865.8" y="0">&gt;=</text><text x="984.6" y="0">70%</text></g>
<g transform="translate(0,3206) scale(1,0.83)" fill="#00aaff"><text x="153" y="0">70%</text><text x="311.4" y="0">&gt;</text><text x="390.6" y="0">Probability</text><text x="865.8" y="0">&gt;=</text><text x="984.6" y="0">60%</text></g>
<g transform="translate(0,3282) scale(1,0.83)" fill="#0000ff"><text x="153" y="0">60%</text><text x="311.4" y="0">&gt;</text><text x="390.6" y="0">Probability</text><text x="865.8" y="0">&gt;=</text><text x="984.6" y="0">50%</text></g>
<g transform="translate(0,3357) scale(1,0.83)" fill="#ff80ff"><text x="153" y="0">50%</text><text x="311.4" y="0">&gt;</text><text x="390.6" y="0">Probability</text></g>
<g transform="translate(0,3453) scale(1,0.83)" fill="#000000"><text x="153" y="0">ENERGY</text><text x="430.2" y="0">=</text><text x="509.4" y="0">-83.1</text><text x="786.6" y="0">PP133662</text></g>
</g>
</svg>
</body></html>
